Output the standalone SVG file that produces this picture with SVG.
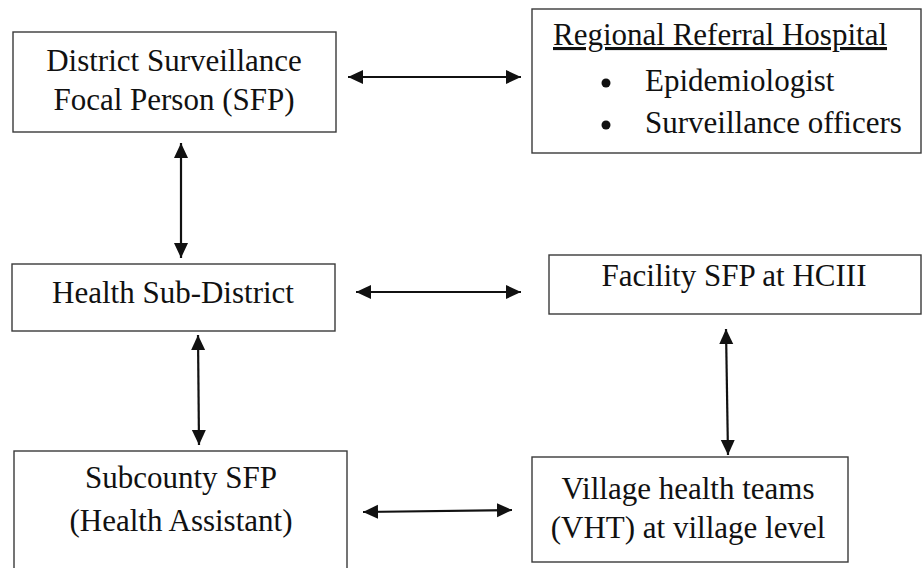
<svg xmlns="http://www.w3.org/2000/svg" width="923" height="568" viewBox="0 0 923 568">
<style>
.box{fill:#fff;stroke:#3a3a3a;stroke-width:1.4}
.t{font-family:'Liberation Serif','DejaVu Serif',serif;font-size:31px;fill:#111}
.c{text-anchor:middle}
.con{stroke:#111;stroke-width:2.2;fill:none}
</style>
<defs>
<marker id="ah" markerUnits="userSpaceOnUse" markerWidth="16" markerHeight="15" refX="15" refY="7" orient="auto-start-reverse" viewBox="0 0 16 14">
<path d="M0,0 L15,7 L0,14 z" fill="#111"/>
</marker>
</defs>
<rect width="923" height="568" fill="#fff"/>
<g id="district-sfp">
<rect class="box" x="13" y="32" width="323" height="100"/>
<text class="t c" x="174" y="71">District Surveillance</text>
<text class="t c" x="174" y="110">Focal Person (SFP)</text>
</g>
<g id="regional-hospital">
<rect class="box" x="532" y="9" width="389" height="144"/>
<text class="t" x="553" y="45" text-decoration="underline">Regional Referral Hospital</text>
<circle cx="606" cy="83" r="4.5" fill="#111"/>
<text class="t" x="645" y="91">Epidemiologist</text>
<circle cx="606" cy="125" r="4.5" fill="#111"/>
<text class="t" x="645" y="133">Surveillance officers</text>
</g>
<g id="health-sub-district">
<rect class="box" x="12" y="264" width="323" height="67"/>
<text class="t c" x="173" y="303">Health Sub-District</text>
</g>
<g id="facility-sfp">
<rect class="box" x="549" y="255" width="372" height="59"/>
<text class="t c" x="734" y="286">Facility SFP at HCIII</text>
</g>
<g id="subcounty-sfp">
<rect class="box" x="14" y="451" width="333" height="130"/>
<text class="t c" x="181" y="488">Subcounty SFP</text>
<text class="t c" x="181" y="531">(Health Assistant)</text>
</g>
<g id="vht">
<rect class="box" x="532" y="457" width="316" height="105"/>
<text class="t c" x="688" y="499">Village health teams</text>
<text class="t c" x="688" y="538">(VHT) at village level</text>
</g>
<g id="connectors">
<line class="con" x1="348" y1="77" x2="521" y2="77" marker-start="url(#ah)" marker-end="url(#ah)"/>
<line class="con" x1="181" y1="143" x2="181" y2="258" marker-start="url(#ah)" marker-end="url(#ah)"/>
<line class="con" x1="356" y1="292" x2="521" y2="292" marker-start="url(#ah)" marker-end="url(#ah)"/>
<line class="con" x1="198" y1="335" x2="199" y2="445" marker-start="url(#ah)" marker-end="url(#ah)"/>
<line class="con" x1="726" y1="329" x2="728" y2="455" marker-start="url(#ah)" marker-end="url(#ah)"/>
<line class="con" x1="363" y1="512" x2="512" y2="510" marker-start="url(#ah)" marker-end="url(#ah)"/>
</g>
</svg>
